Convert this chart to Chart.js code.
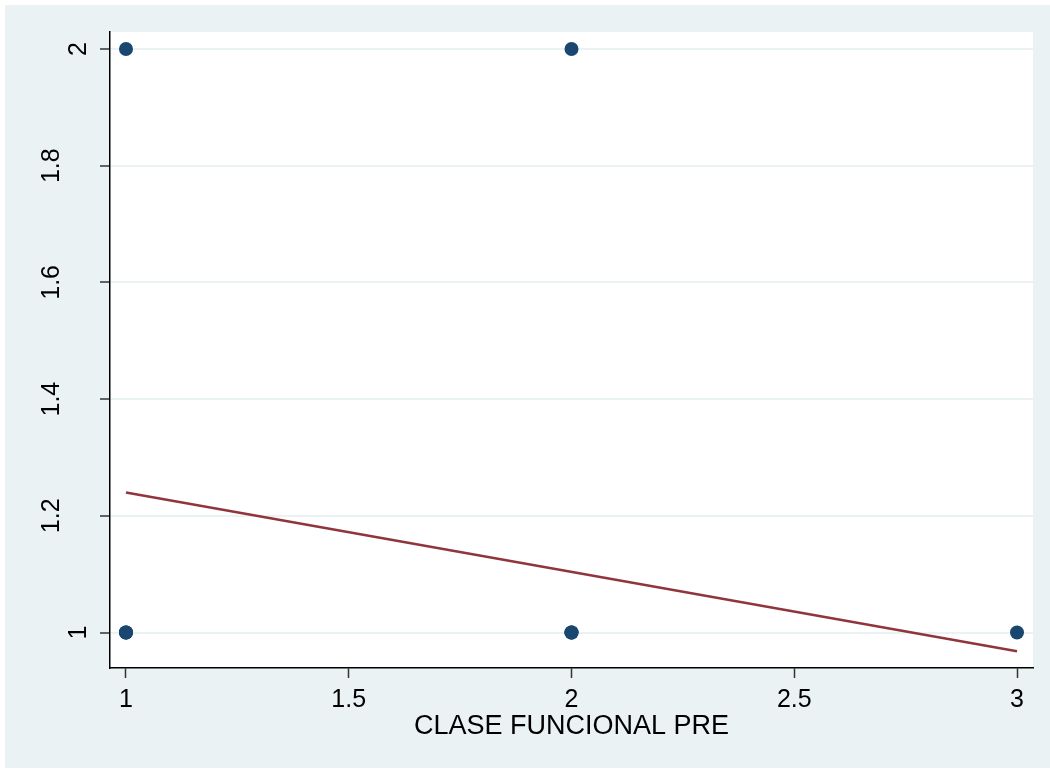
<!DOCTYPE html>
<html>
<head>
<meta charset="utf-8">
<script src="https://cdn.jsdelivr.net/npm/chart.js@4/dist/chart.umd.min.js"></script>
<style>
  html, body { margin: 0; padding: 0; background: #ffffff; overflow: hidden; }
  canvas { display: block; }
</style>
</head>
<body>
<canvas id="chart" width="1050" height="769"></canvas>
<script>
// Observations: functional class before (x) and after (y)
const clasePre  = [1, 1, 1, 1, 2, 2, 2, 2, 3];
const clasePost = [2, 1, 1, 1, 2, 1, 1, 1, 1];

// Linear fit evaluated at the ends of the observed range
const fitX = [1, 3];
const fitY = [1.24, 0.968];

// Axis tick values
const xTickValues = [1, 1.5, 2, 2.5, 3];
const yTickValues = [1, 1.2, 1.4, 1.6, 1.8, 2];

const xTitle = 'CLASE FUNCIONAL PRE';

const FONT = 'Liberation Sans, Arial, sans-serif';
const NAVY = '#1a476f';
const MAROON = '#90353b';
const GRID = '#eaf2f3';

const scatterPoints = clasePre.map((x, i) => ({ x: x, y: clasePost[i] }));
const fitPoints = fitX.map((x, i) => ({ x: x, y: fitY[i] }));

const backgroundPlugin = {
  id: 'stataBackground',
  beforeDraw(chart) {
    const { ctx, chartArea } = chart;
    ctx.save();
    ctx.fillStyle = '#ffffff';
    ctx.fillRect(0, 0, chart.width, chart.height);
    ctx.fillStyle = GRID;
    ctx.fillRect(5, 5, chart.width - 5, chart.height - 6);
    ctx.fillStyle = '#ffffff';
    ctx.fillRect(chartArea.left, chartArea.top, chartArea.right - chartArea.left, chartArea.bottom - chartArea.top);
    ctx.restore();
  }
};

// Vertical (rotated) labels for the y axis
const yLabelPlugin = {
  id: 'yRotatedLabels',
  afterDraw(chart) {
    const scale = chart.scales.y;
    const ctx = chart.ctx;
    ctx.save();
    ctx.font = '25px ' + FONT;
    ctx.fillStyle = '#000000';
    ctx.textAlign = 'center';
    ctx.textBaseline = 'middle';
    scale.ticks.forEach(t => {
      const label = String(t.value);
      const w = ctx.measureText(label).width;
      const py = scale.getPixelForValue(t.value);
      const cx = scale.right - 14 - 1.3 * w;
      ctx.save();
      ctx.translate(cx, py);
      ctx.rotate(-Math.PI / 2);
      ctx.fillText(label, 0, 1);
      ctx.restore();
    });
    ctx.restore();
  }
};

new Chart(document.getElementById('chart'), {
  type: 'scatter',
  data: {
    datasets: [
      {
        type: 'line',
        data: fitPoints,
        borderColor: MAROON,
        backgroundColor: MAROON,
        borderWidth: 2.5,
        pointRadius: 0,
        fill: false,
        tension: 0
      },
      {
        type: 'scatter',
        data: scatterPoints,
        backgroundColor: NAVY,
        borderColor: NAVY,
        borderWidth: 0,
        pointRadius: 7
      }
    ]
  },
  options: {
    responsive: false,
    devicePixelRatio: 1,
    animation: false,
    layout: { padding: { left: 5, top: 32, right: 17, bottom: 0 } },
    plugins: {
      legend: { display: false },
      tooltip: { enabled: false }
    },
    scales: {
      x: {
        type: 'linear',
        min: 0.9641,
        max: 3.0359,
        afterBuildTicks(scale) { scale.ticks = xTickValues.map(v => ({ value: v })); },
        afterFit(scale) { scale.height = 101; },
        border: { display: true, color: '#000000', width: 1.5 },
        grid: {
          drawOnChartArea: false,
          drawTicks: true,
          tickLength: 10,
          tickColor: '#333333',
          tickWidth: 1.5
        },
        ticks: {
          color: '#000000',
          font: { family: FONT, size: 25 },
          padding: 7,
          maxRotation: 0,
          minRotation: 0,
          callback: v => String(v)
        },
        title: {
          display: true,
          text: xTitle,
          color: '#000000',
          font: { family: FONT, size: 27 },
          padding: { top: 0, bottom: 26 }
        }
      },
      y: {
        type: 'linear',
        min: 0.9392,
        max: 2.0291,
        afterBuildTicks(scale) { scale.ticks = yTickValues.map(v => ({ value: v })); },
        afterFit(scale) { scale.width = 105; },
        border: { display: true, color: '#000000', width: 1.5 },
        grid: {
          color: GRID,
          lineWidth: 2,
          drawOnChartArea: true,
          drawTicks: true,
          tickLength: 10,
          tickColor: '#333333',
          tickWidth: 1.5
        },
        ticks: { display: false }
      }
    }
  },
  plugins: [backgroundPlugin, yLabelPlugin]
});
</script>
</body>
</html>
